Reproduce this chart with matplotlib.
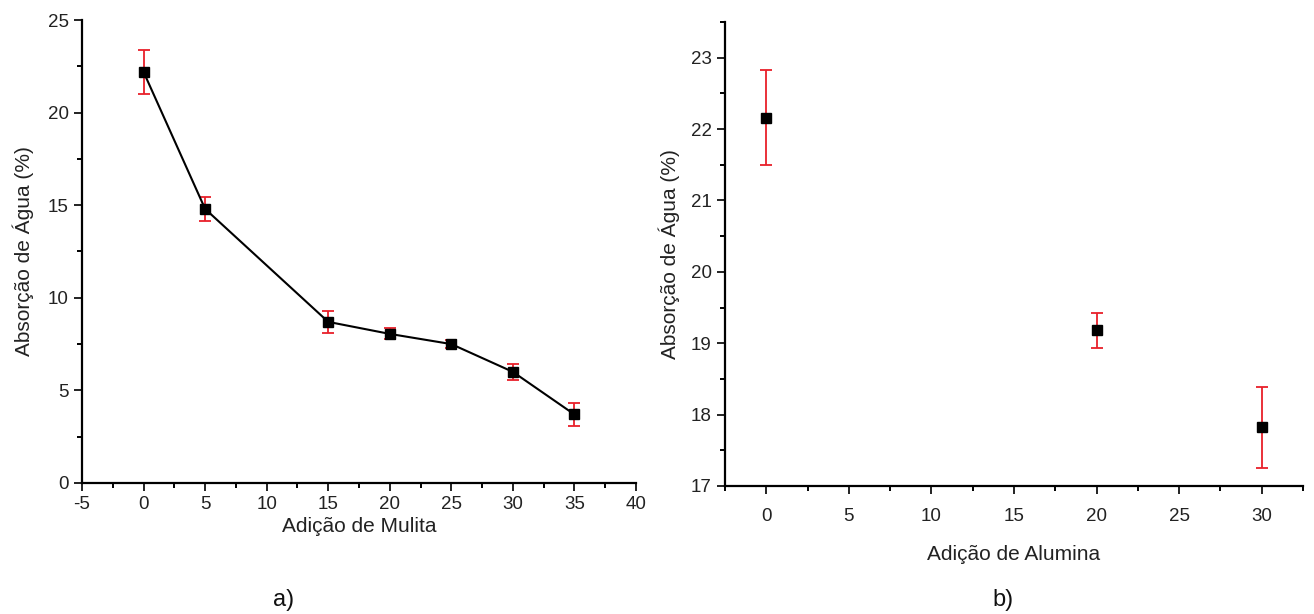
import matplotlib
matplotlib.use('Agg')
import matplotlib.pyplot as plt
from matplotlib.ticker import MultipleLocator

plt.rcParams['font.family'] = ['Liberation Sans', 'DejaVu Sans']

# a) mulita
mulita = [0, 5, 15, 20, 25, 30, 35]
abs_mulita = [22.2, 14.8, 8.7, 8.05, 7.5, 6.0, 3.7]
err_mulita = [1.2, 0.65, 0.6, 0.3, 0.2, 0.45, 0.62]

# b) alumina
alumina = [0, 20, 30]
abs_alumina = [22.16, 19.18, 17.82]
err_alumina = [0.67, 0.25, 0.57]

fig = plt.figure(figsize=(13.14, 6.14), dpi=100)
ax1 = fig.add_axes([0.0624, 0.2134, 0.4216, 0.754])
ax2 = fig.add_axes([0.5518, 0.2085, 0.4398, 0.7557])


def style(ax):
    for s in ['top', 'right']:
        ax.spines[s].set_visible(False)
    for s in ['left', 'bottom']:
        ax.spines[s].set_linewidth(1.6)
    ax.tick_params(which='major', direction='out', length=6, width=1.4,
                   labelsize=13.5, colors='#222222')
    ax.tick_params(which='minor', direction='out', length=3.5, width=1.4)


ax1.errorbar(mulita, abs_mulita, yerr=err_mulita, color='black', lw=1.5,
             marker='s', ms=7.5, mfc='black', mec='black',
             ecolor='#e8202a', elinewidth=1.3, capsize=4, capthick=1.3, zorder=3)
ax1.set_xlim(-5, 40)
ax1.set_ylim(0, 25)
ax1.xaxis.set_major_locator(MultipleLocator(5))
ax1.xaxis.set_minor_locator(MultipleLocator(2.5))
ax1.yaxis.set_major_locator(MultipleLocator(5))
ax1.yaxis.set_minor_locator(MultipleLocator(2.5))
ax1.set_xticks(range(-5, 41, 5))
ax1.set_xticklabels(['-5', '0', '5', '10', '15', '20', '25', '30', '35', '40'])
style(ax1)
ax1.set_xlabel('Adição de Mulita', fontsize=15, color='#222222', labelpad=3)
ax1.set_ylabel('Absorção de Água (%)', fontsize=15, color='#222222', labelpad=10)

ax2.errorbar(alumina, abs_alumina, yerr=err_alumina, color='black', ls='none',
             marker='s', ms=7.5, mfc='black', mec='black',
             ecolor='#e8202a', elinewidth=1.3, capsize=4, capthick=1.3, zorder=3)
ax2.set_xlim(-2.5, 32.5)
ax2.set_ylim(17, 23.5)
ax2.xaxis.set_major_locator(MultipleLocator(5))
ax2.xaxis.set_minor_locator(MultipleLocator(2.5))
ax2.yaxis.set_major_locator(MultipleLocator(1))
ax2.yaxis.set_minor_locator(MultipleLocator(0.5))
style(ax2)
ax2.tick_params(axis='x', which='major', pad=10)
ax2.set_xlabel('Adição de Alumina', fontsize=15, color='#222222', labelpad=14)
ax2.set_ylabel('Absorção de Água (%)', fontsize=15, color='#222222', labelpad=8)

fig.text(0.2155, 0.022, 'a)', fontsize=17, ha='center', va='center', color='#111111')
fig.text(0.7633, 0.022, 'b)', fontsize=17, ha='center', va='center', color='#111111')

fig.savefig('out.png', dpi=100)
